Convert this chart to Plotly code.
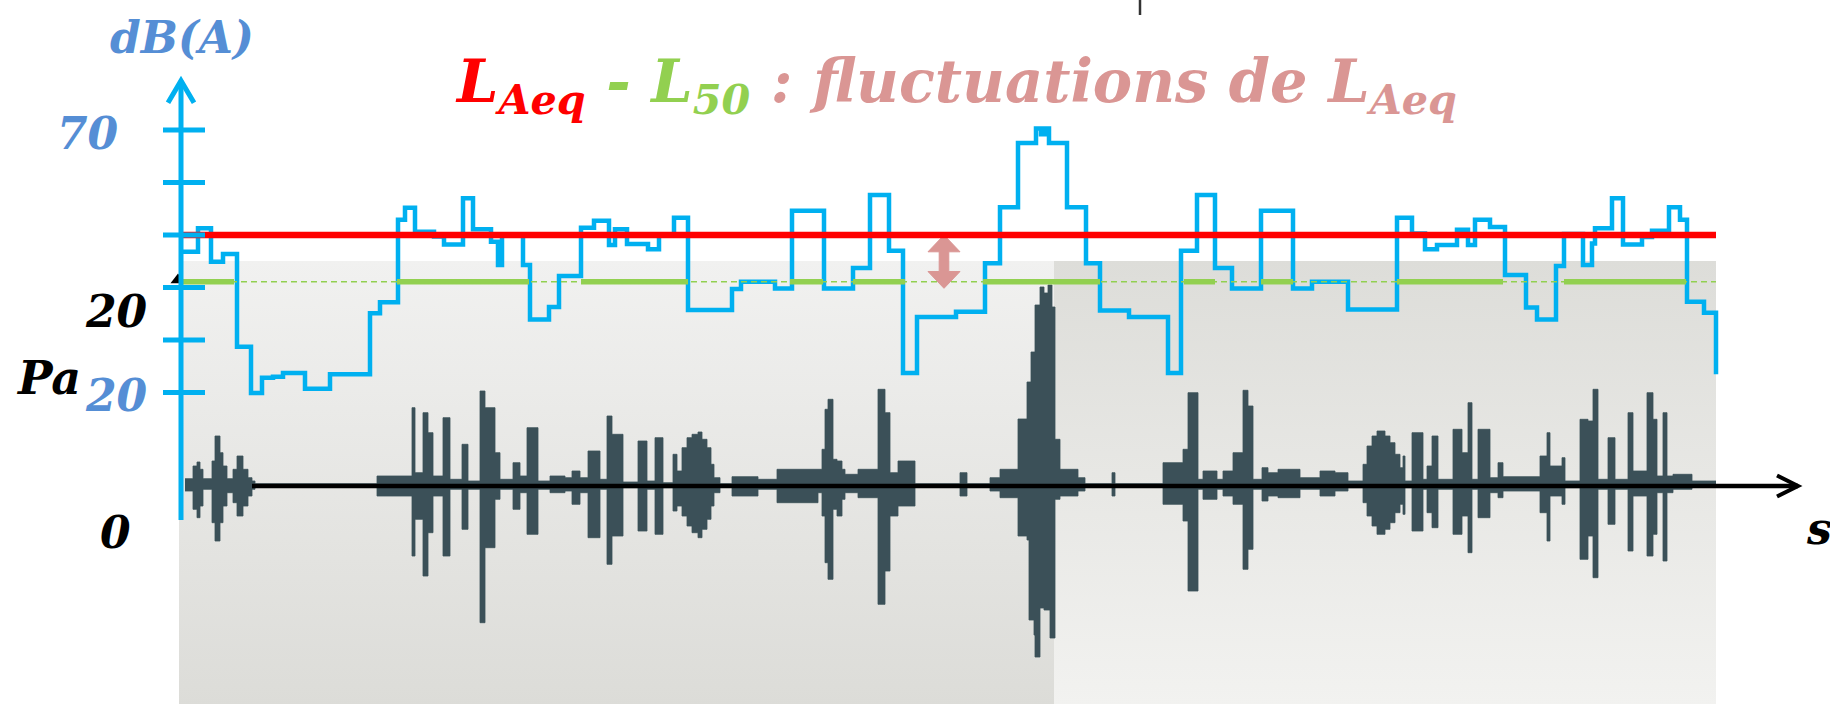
import plotly.graph_objects as go

# ---------------------------------------------------------------------------
# Data
# time in seconds, sound level in dB(A), acoustic pressure in display units
# ---------------------------------------------------------------------------

# Short-term A-weighted level (step curve): time at which each level starts
level_t = [0.00, 0.17, 0.30, 0.42, 0.56, 0.70, 0.81, 0.92, 1.02, 1.24, 1.49,
           1.89, 1.99, 2.17, 2.24, 2.34, 2.53, 2.63, 2.82, 2.92, 3.10, 3.17,
           3.21, 3.42, 3.49, 3.68, 3.78, 4.00, 4.13, 4.28, 4.34, 4.46, 4.67,
           4.78, 4.93, 5.07, 5.51, 5.60, 5.94, 6.11, 6.43, 6.72, 6.89, 7.08,
           7.22, 7.36, 7.75, 8.04, 8.19, 8.37, 8.55, 8.60, 8.64, 8.68, 8.86,
           9.05, 9.19, 9.48, 9.87, 10.00, 10.16, 10.34, 10.51, 10.80, 11.12,
           11.31, 11.67, 12.16, 12.31, 12.44, 12.56, 12.76, 12.87, 12.94,
           13.09, 13.24, 13.45, 13.56, 13.75, 13.83, 14.02, 14.11, 14.14,
           14.31, 14.42, 14.61, 14.71, 14.88, 14.99, 15.06, 15.23, 15.35]
level_db = [46.8, 51.3, 44.9, 46.4, 28.7, 19.9, 22.8, 23.0, 23.7, 20.7, 23.5,
            35.1, 37.2, 52.9, 55.2, 50.6, 49.7, 48.2, 57.0, 51.1, 48.7, 44.3,
            50.0, 44.3, 33.9, 36.3, 42.2, 51.4, 52.7, 48.1, 51.1, 48.3, 47.3,
            50.0, 53.3, 35.7, 39.7, 41.1, 39.8, 54.6, 39.8, 43.7, 57.6, 47.0,
            23.7, 34.4, 35.4, 44.6, 55.3, 67.5, 70.3, 69.2, 70.3, 67.5, 55.3,
            44.6, 35.6, 34.4, 23.7, 47.0, 57.6, 43.7, 39.8, 54.6, 39.8,
            41.1, 35.8, 53.3, 50.3, 47.3, 48.1, 51.0, 48.1, 52.9,
            51.5, 42.4, 36.2, 33.9, 44.1, 50.2, 44.3, 48.4, 51.3,
            57.0, 48.2, 49.6, 50.8, 55.3, 52.9, 37.3, 35.2, 23.5]

LAEQ = 50.0   # equivalent continuous level, dB(A)
L50 = 41.1    # median level, dB(A)

# stretches of the L50 line drawn bold
l50_bold_start = [0.00, 2.16, 4.00, 6.09, 6.72, 8.02, 10.03, 10.80, 12.16, 13.83]
l50_bold_end = [0.53, 3.48, 5.07, 6.42, 7.24, 9.19, 10.34, 11.12, 13.22, 15.05]

# Pressure waveform envelope: time, upper and lower amplitude
wave_t = [
    0.04, 0.12, 0.16, 0.19, 0.22, 0.31, 0.34, 0.39, 0.42, 0.46, 0.52, 0.56,
    0.62, 0.67, 0.71, 0.74, 1.96, 2.31, 2.34, 2.42, 2.47, 2.52, 2.62, 2.69,
    2.81, 2.87, 2.99, 3.04, 3.14, 3.19, 3.32, 3.39, 3.46, 3.57, 3.69,
    3.84, 3.91, 3.99, 4.07, 4.19, 4.26, 4.31, 4.42, 4.57, 4.66, 4.74, 4.82,
    4.92, 4.96, 5.01, 5.06, 5.11, 5.17, 5.21, 5.26, 5.30, 5.33, 5.39, 5.51,
    5.77, 5.96, 6.37, 6.41, 6.44, 6.47, 6.52, 6.56, 6.61, 6.64, 6.77, 6.97,
    7.04, 7.09, 7.17, 7.34,
    7.69, 7.79, 7.86, 8.09, 8.19, 8.37, 8.46, 8.48, 8.50, 8.53, 8.54, 8.59,
    8.63, 8.67, 8.69, 8.71, 8.74, 8.79, 8.97, 9.04, 9.31, 9.34, 9.82, 10.02,
    10.07, 10.17, 10.22, 10.36, 10.42, 10.52, 10.62, 10.67, 10.72, 10.81,
    10.87, 10.97, 11.19, 11.39,
    11.54, 11.67, 11.82, 11.86, 11.91, 11.96, 12.04, 12.09, 12.14, 12.19,
    12.22, 12.24, 12.31, 12.42, 12.46, 12.51, 12.57, 12.72, 12.81, 12.87,
    12.91, 12.97, 13.09, 13.17, 13.22, 13.59, 13.66, 13.69, 13.81, 13.84,
    13.99, 14.07, 14.12, 14.17, 14.27, 14.34, 14.47, 14.52, 14.66, 14.72,
    14.76, 14.82, 14.86, 14.92, 15.11, 15.35]
wave_pos = [
    0.73, 2.00, 2.40, 1.67, 0.73, 2.50, 5.00, 3.33, 2.00, 0.73, 1.67, 3.00,
    1.67, 0.83, 0.50, 0.23, 1.00, 7.83, 1.33, 7.33, 5.33, 1.00, 6.83, 0.67,
    4.17, 0.50, 9.50, 7.83, 3.33, 0.67, 2.33, 1.00, 5.83, 0.50, 1.00,
    0.83, 1.50, 0.83, 3.50, 0.67, 7.00, 5.17, 0.40, 4.50, 0.50, 4.83, 0.33,
    3.17, 1.50, 3.83, 4.83, 5.17, 5.40, 4.67, 3.83, 2.17, 0.83, 0.23, 0.93,
    0.67, 1.67, 1.67, 3.67, 7.67, 8.67, 2.67, 2.50, 1.67, 1.17, 1.67, 9.67,
    7.33, 1.33, 2.50, 0.23,
    0.23, 1.33, 0.23, 0.83, 1.67, 6.70, 10.4, 10.4, 13.4, 13.4, 18.1, 19.9,
    19.3, 20.1, 20.1, 17.9, 4.67, 1.67, 0.83, 0.23, 1.33, 0.23, 2.33, 3.67,
    9.33, 0.67, 1.50, 0.67, 1.50, 3.33, 9.57, 8.00, 0.67, 1.83,
    1.33, 1.67, 0.83, 1.50,
    1.33, 0.50, 2.17, 4.00, 5.00, 5.50, 5.00, 4.33, 3.17, 1.83,
    3.00, 0.50, 5.33, 0.67, 2.00, 5.00, 0.67, 5.67, 3.33, 8.33,
    0.67, 5.67, 0.83, 2.33, 0.93, 3.00, 5.33, 2.00, 2.83, 0.50,
    6.67, 6.50, 9.67, 0.67, 4.83, 0.67, 7.33, 1.50, 9.33, 6.67,
    1.00, 7.33, 1.00, 1.17, 0.50, 0.50]
wave_neg = [
    -0.50, -2.33, -3.17, -2.00, -0.33, -3.67, -5.50, -3.67, -2.00, -0.67, -1.67, -3.00,
    -2.00, -1.00, -0.33, -0.07, -1.00, -7.00, -3.33, -9.00, -4.67, -1.00, -7.00, -0.33,
    -4.33, -0.33, -13.67, -6.17, -1.33, -0.33, -2.33, -0.67, -4.83, -0.33, -0.67,
    -0.50, -1.83, -0.67, -5.17, -0.33, -7.83, -5.00, -0.17, -4.50, -0.33, -4.83, -0.17,
    -2.50, -2.00, -3.00, -4.00, -4.67, -5.17, -4.33, -3.33, -2.00, -0.67, -0.07, -1.00,
    -0.33, -1.67, -0.67, -3.00, -7.67, -9.33, -2.33, -3.00, -1.33, -0.67, -1.17, -11.83,
    -8.50, -3.00, -2.00, -0.07,
    -0.07, -1.00, -0.07, -0.50, -1.17, -5.00, -5.40, -13.4, -13.4, -14.9, -17.1, -12.2,
    -12.4, -12.4, -15.2, -15.2, -1.33, -1.00, -0.50, -0.07, -1.00, -0.07, -1.83, -3.50,
    -10.5, -0.33, -1.33, -0.33, -1.00, -1.83, -8.33, -6.33, -0.33, -1.50,
    -1.00, -1.17, -0.33, -1.00,
    -0.50, -0.17, -1.67, -3.00, -4.00, -4.83, -4.33, -3.67, -2.67, -1.83,
    -2.83, -0.17, -4.50, -0.33, -2.67, -4.17, -0.33, -4.83, -3.00, -6.67,
    -0.33, -3.17, -0.67, -1.17, -0.50, -2.67, -5.50, -1.00, -1.83, -0.17,
    -7.33, -5.00, -9.17, -0.33, -3.83, -0.33, -6.50, -1.00, -7.00, -4.83,
    -0.67, -7.50, -0.67, -0.33, -0.10, -0.10]
assert len(wave_t) == len(wave_pos) == len(wave_neg)
assert len(level_t) == len(level_db)

db_ticks = [20, 30, 40, 50, 60, 70]

T_END = level_t[-1]          # end of the recording
LOUDEST_T = 8.73             # centre of the loudest event (panel split)
PRESSURE_ARROW_TIP_T = 16.17 # tip of the time axis arrow
ARROW_T = 7.63               # position of the LAeq/L50 double arrow

# ---------------------------------------------------------------------------
# Colours
# ---------------------------------------------------------------------------
BLUE = "#00B0F0"
LABEL_BLUE = "#558ED5"
RED = "#FF0000"
GREEN = "#92D050"
PINK = "#DA9694"
WAVE = "#3B5058"

FONT = "DejaVu Serif"

fig = go.Figure()

# Waveform panels (two halves with opposite vertical gradients)
PANEL_TOP, PANEL_BOTTOM = 22.5, -22.0
fig.add_trace(go.Scatter(
    x=[-0.02, LOUDEST_T, LOUDEST_T, -0.02, -0.02],
    y=[PANEL_TOP, PANEL_TOP, PANEL_BOTTOM, PANEL_BOTTOM, PANEL_TOP],
    mode="lines", fill="toself", line=dict(width=0),
    fillgradient=dict(type="vertical",
                      colorscale=[[0, "#DCDCD8"], [1, "#F1F1F0"]]),
    hoverinfo="skip"))
fig.add_trace(go.Scatter(
    x=[LOUDEST_T, T_END, T_END, LOUDEST_T, LOUDEST_T],
    y=[PANEL_TOP, PANEL_TOP, PANEL_BOTTOM, PANEL_BOTTOM, PANEL_TOP],
    mode="lines", fill="toself", line=dict(width=0),
    fillgradient=dict(type="vertical",
                      colorscale=[[0, "#F2F2F0"], [1, "#DDDDD9"]]),
    hoverinfo="skip"))

# waveform centre line
fig.add_trace(go.Scatter(x=[wave_t[0], T_END], y=[0, 0], mode="lines",
                         line=dict(color="#8A9CA2", width=1.5),
                         hoverinfo="skip"))

# waveform envelope
for amp in (wave_pos, wave_neg):
    fig.add_trace(go.Scatter(
        x=wave_t, y=amp, mode="lines", fill="tozeroy",
        line=dict(color=WAVE, width=0.8, shape="hv"),
        fillcolor=WAVE, hoverinfo="skip"))

# hidden tip of the pressure axis
fig.add_trace(go.Scatter(x=[-0.03], y=[20.6], mode="markers",
                         marker=dict(symbol="triangle-up", size=13,
                                     color="black"),
                         hoverinfo="skip"))

# Level curve
fig.add_trace(go.Scatter(x=level_t, y=level_db, yaxis="y2", mode="lines",
                         line=dict(color=BLUE, width=4.5, shape="hv"),
                         hoverinfo="skip"))

# L50 line: thin dashed along the whole record, bold where highlighted
fig.add_trace(go.Scatter(x=[0, T_END], y=[L50, L50], yaxis="y2",
                         mode="lines",
                         line=dict(color=GREEN, width=1.6, dash="6px,4px"),
                         hoverinfo="skip"))
bx, by = [], []
for s, e in zip(l50_bold_start, l50_bold_end):
    bx += [s, e, None]
    by += [L50, L50, None]
fig.add_trace(go.Scatter(x=bx, y=by, yaxis="y2", mode="lines",
                         line=dict(color=GREEN, width=5.5),
                         hoverinfo="skip"))

# Double arrow between LAeq and L50
head_w, shaft_w, head_h = 0.16, 0.048, 3.2
top, bot = LAEQ, L50 - 1.26
c = ARROW_T
ax_ = [c, c + head_w, c + shaft_w, c + shaft_w, c + head_w, c,
       c - head_w, c - shaft_w, c - shaft_w, c - head_w, c]
ay_ = [top, top - head_h, top - head_h, bot + head_h, bot + head_h, bot,
       bot + head_h, bot + head_h, top - head_h, top - head_h, top]
fig.add_trace(go.Scatter(x=ax_, y=ay_, yaxis="y2", mode="lines",
                         fill="toself", fillcolor=PINK,
                         line=dict(color=PINK, width=1), hoverinfo="skip"))

# LAeq line
fig.add_trace(go.Scatter(x=[0, T_END], y=[LAEQ, LAEQ], yaxis="y2",
                         mode="lines", line=dict(color=RED, width=6.5),
                         hoverinfo="skip"))

# ---------------------------------------------------------------------------
# Hand-drawn style axes
# ---------------------------------------------------------------------------
shapes = []
AX_BOTTOM, AX_TOP = -4.3, 79.4
shapes.append(dict(type="line", xref="x", yref="y2", x0=0, x1=0,
                   y0=AX_BOTTOM, y1=AX_TOP, layer="above",
                   line=dict(color=BLUE, width=5)))
shapes.append(dict(type="path", xref="x", yref="y2", layer="above",
                   path=f"M -0.13 {AX_TOP - 4.2} L 0 {AX_TOP} L 0.13 {AX_TOP - 4.2}",
                   line=dict(color=BLUE, width=5)))
for v in db_ticks:
    shapes.append(dict(type="line", xref="x", yref="y2", x0=-0.18, x1=0.24,
                       y0=v, y1=v, layer="above",
                       line=dict(color=BLUE, width=5)))

# time axis of the pressure signal
shapes.append(dict(type="line", xref="x", yref="y", x0=0.71,
                   x1=PRESSURE_ARROW_TIP_T, y0=0, y1=0, layer="above",
                   line=dict(color="black", width=4.5)))
shapes.append(dict(type="path", xref="x", yref="y", layer="above",
                   path=(f"M {PRESSURE_ARROW_TIP_T - 0.21} 1.05 "
                         f"L {PRESSURE_ARROW_TIP_T} 0 "
                         f"L {PRESSURE_ARROW_TIP_T - 0.21} -1.05"),
                   line=dict(color="black", width=4)))

# small mark at the top edge
shapes.append(dict(type="line", xref="paper", yref="paper",
                   x0=1140 / 1830, x1=1140 / 1830, y0=1, y1=1 - 15 / 704,
                   line=dict(color="#333333", width=2.5)))

# ---------------------------------------------------------------------------
# Text
# ---------------------------------------------------------------------------
W, H = 1830, 704


def px(x, y):
    return x / W, 1 - y / H


annotations = []


def label(text, x, y, color, size, anchor="center"):
    xp, yp = px(x, y)
    annotations.append(dict(
        text=text, x=xp, y=yp, xref="paper", yref="paper",
        xanchor=anchor, yanchor="middle", showarrow=False,
        font=dict(family=FONT, size=size, color=color,
                  weight="bold", style="italic")))


title = (f'<span style="color:{RED}">L<sub>Aeq</sub></span>'
         f'<span style="color:{GREEN}"> - L<sub>50</sub></span>'
         f'<span style="color:{PINK}"> : fluctuations de L<sub>Aeq</sub></span>')
label(title, 956, 85, PINK, 59)
label("dB(A)", 182, 38, LABEL_BLUE, 44)
label("70", 88, 134, LABEL_BLUE, 44)
label("20", 116, 311, "black", 44)
label("Pa", 48, 378, "black", 46)
label("20", 116, 395, LABEL_BLUE, 44)
label("0", 115, 532, "black", 44)
label("s", 1804, 528, "black", 44, anchor="left")

fig.update_layout(
    width=W, height=H,
    margin=dict(l=0, r=0, t=0, b=0),
    paper_bgcolor="white", plot_bgcolor="white",
    showlegend=False,
    xaxis=dict(range=[-1.81, 16.49], visible=False, fixedrange=True),
    yaxis=dict(range=[-21.8, 48.6], visible=False, fixedrange=True),
    yaxis2=dict(range=[-39.33, 94.76], visible=False, overlaying="y",
                fixedrange=True),
    shapes=shapes,
    annotations=annotations,
)

fig.write_html("out.html", config={"displayModeBar": False})
